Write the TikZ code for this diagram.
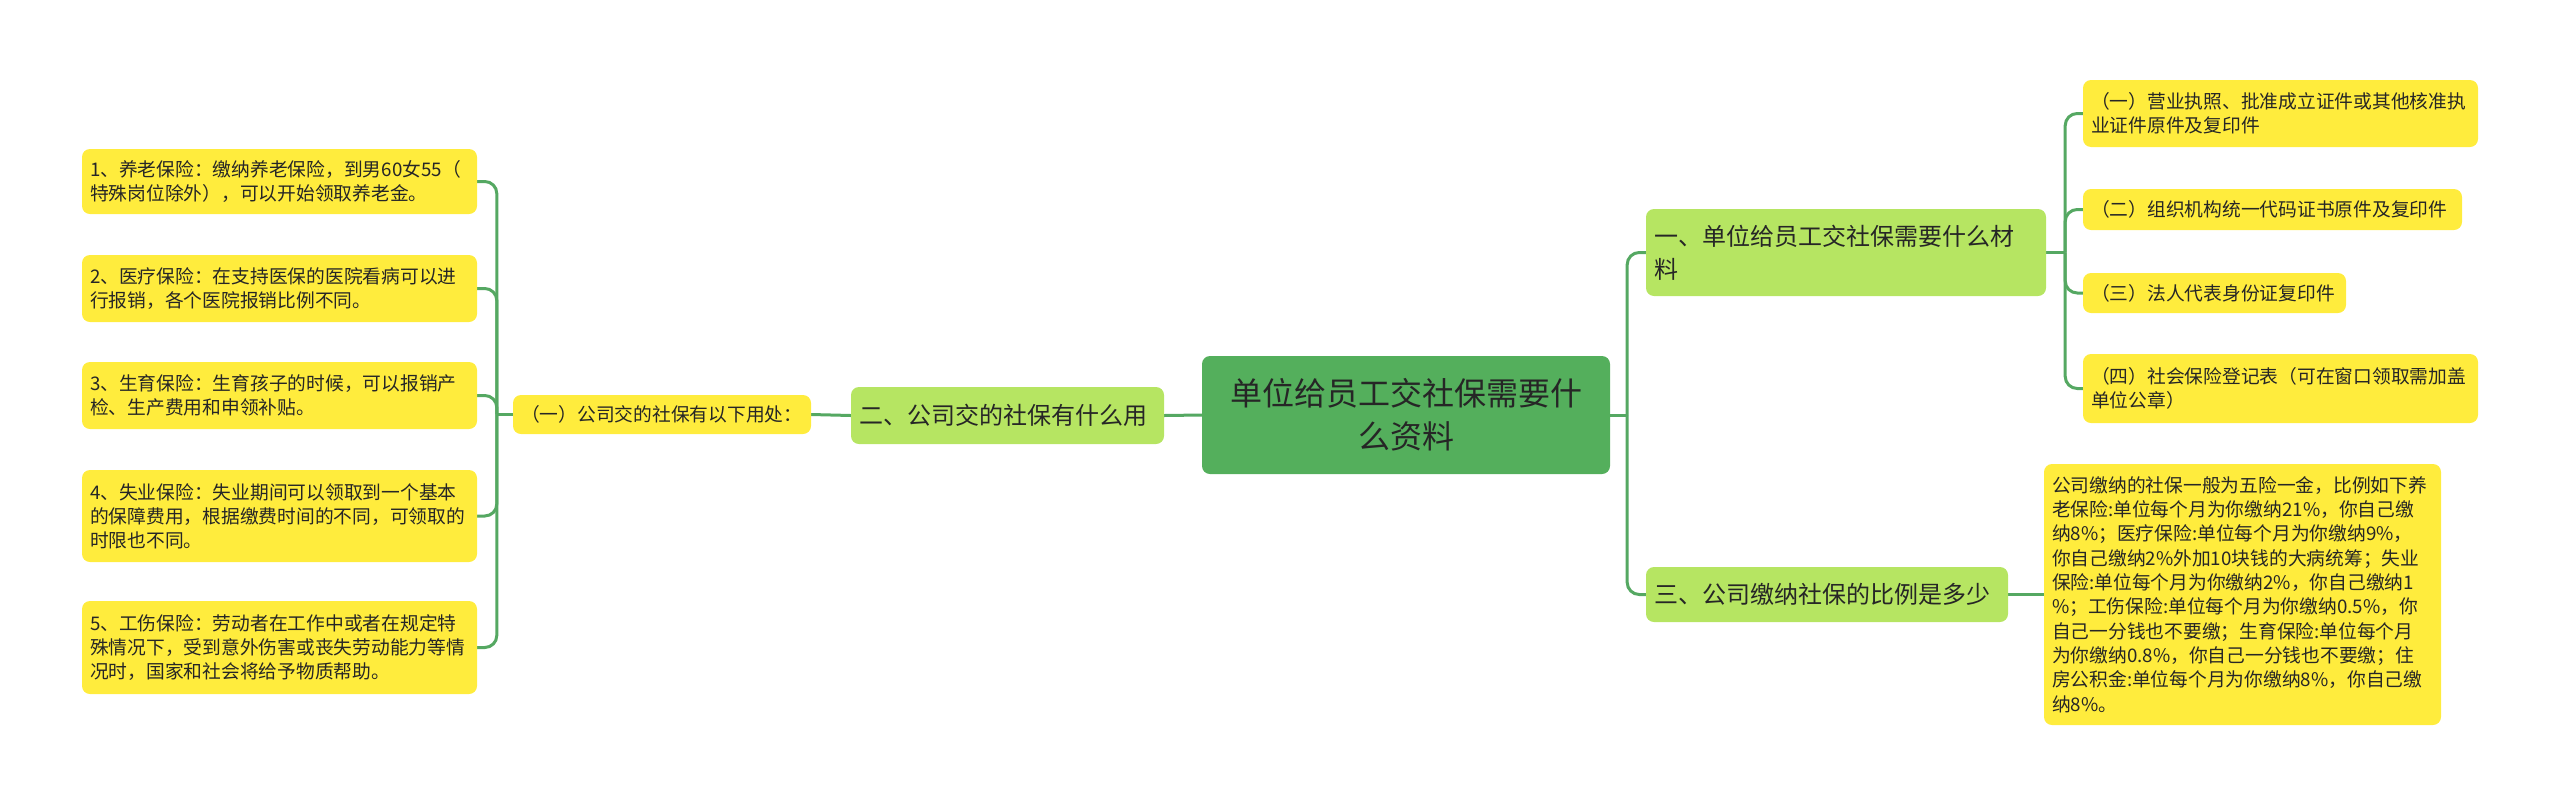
\documentclass[tikz,border=0pt]{standalone}
\usepackage{fontspec}
\setmainfont{Noto Sans CJK SC}
\usetikzlibrary{backgrounds}
\definecolor{rootc}{HTML}{54AF5C}
\definecolor{brc}{HTML}{B6E562}
\definecolor{leafc}{HTML}{FFEC3D}
\definecolor{linec}{HTML}{55A862}
\definecolor{txt}{HTML}{262626}
\begin{document}
\begin{tikzpicture}[x=1pt,y=-1pt,
  box/.style={rounded corners=8pt, inner xsep=8pt, inner ysep=0pt, text=txt, align=left},
  rootbox/.style={box, fill=rootc, align=center, font=\fontsize{32}{43}\selectfont},
  branch/.style={box, fill=brc, font=\fontsize{24}{33}\selectfont},
  leaf/.style={box, fill=leafc, font=\fontsize{18.75}{24}\selectfont},
  link/.style={draw=linec, line width=3pt, rounded corners=12pt}]
\useasboundingbox (0,0) rectangle (2560,807);

\node[rootbox, text width=392pt, minimum height=118pt] (root) at (1406,415) {单位给员工交社保需要什\\么资料};

\node[branch, text width=297pt, minimum height=57pt] (b2) at (1007.5,415.5) {二、公司交的社保有什么用};
\node[leaf, text width=282pt, minimum height=39pt] (l0) at (662,414.5) {（一）公司交的社保有以下用处：};

\node[leaf, text width=379pt, minimum height=65pt] (L1) at (279.5,181.5) {1、养老保险：缴纳养老保险，到男60女55（\\特殊岗位除外），可以开始领取养老金。};
\node[leaf, text width=379pt, minimum height=67pt] (L2) at (279.5,288.5) {2、医疗保险：在支持医保的医院看病可以进\\行报销，各个医院报销比例不同。};
\node[leaf, text width=379pt, minimum height=67pt] (L3) at (279.5,395.5) {3、生育保险：生育孩子的时候，可以报销产\\检、生产费用和申领补贴。};
\node[leaf, text width=379pt, minimum height=92pt] (L4) at (279.5,516) {4、失业保险：失业期间可以领取到一个基本\\的保障费用，根据缴费时间的不同，可领取的\\时限也不同。};
\node[leaf, text width=379pt, minimum height=93pt] (L5) at (279.5,647.5) {5、工伤保险：劳动者在工作中或者在规定特\\殊情况下，受到意外伤害或丧失劳动能力等情\\况时，国家和社会将给予物质帮助。};

\node[branch, text width=384pt, minimum height=87pt] (b1) at (1846,252.5) {一、单位给员工交社保需要什么材\\料};
\node[branch, text width=346pt, minimum height=55pt] (b3) at (1827,594.5) {三、公司缴纳社保的比例是多少};

\node[leaf, text width=379pt, minimum height=67pt] (R1) at (2280.5,113.5) {（一）营业执照、批准成立证件或其他核准执\\业证件原件及复印件};
\node[leaf, text width=363pt, minimum height=41pt] (R2) at (2272.5,209.5) {（二）组织机构统一代码证书原件及复印件};
\node[leaf, text width=247pt, minimum height=40pt] (R3) at (2214.5,293) {（三）法人代表身份证复印件};
\node[leaf, text width=379pt, minimum height=69pt] (R4) at (2280.5,388.5) {（四）社会保险登记表（可在窗口领取需加盖\\单位公章）};

\node[leaf, text width=381pt, minimum height=261pt, font=\fontsize{18.75}{24.3}\selectfont] (R5) at (2242.5,594.5) {公司缴纳的社保一般为五险一金，比例如下养\\老保险:单位每个月为你缴纳21\%，你自己缴\\纳8\%；医疗保险:单位每个月为你缴纳9\%，\\你自己缴纳2\%外加10块钱的大病统筹；失业\\保险:单位每个月为你缴纳2\%，你自己缴纳1\\\%；工伤保险:单位每个月为你缴纳0.5\%，你\\自己一分钱也不要缴；生育保险:单位每个月\\为你缴纳0.8\%，你自己一分钱也不要缴；住\\房公积金:单位每个月为你缴纳8\%，你自己缴\\纳8\%。};

\coordinate (jR) at ([xshift=17pt]root.east);
\coordinate (jL) at ([xshift=-16pt]l0.west);
\coordinate (j1) at ([xshift=19pt]b1.east);

\begin{pgfonlayer}{background}
\draw[link] (root.east) -- (jR);
\draw[link] (jR) |- (b1.west);
\draw[link] (jR) |- (b3.west);
\draw[link] (root.west) -- (b2.east);
\draw[link] (b2.west) -- (l0.east);
\draw[link] (l0.west) -- (jL);
\draw[link] (jL) |- (L1.east);
\draw[link] (jL) |- (L2.east);
\draw[link] (jL) |- (L3.east);
\draw[link] (jL) |- (L4.east);
\draw[link] (jL) |- (L5.east);
\draw[link] (b1.east) -- (j1);
\draw[link] (j1) |- (R1.west);
\draw[link] (j1) |- (R2.west);
\draw[link] (j1) |- (R3.west);
\draw[link] (j1) |- (R4.west);
\draw[link] (b3.east) -- (R5.west);
\end{pgfonlayer}
\end{tikzpicture}
\end{document}
